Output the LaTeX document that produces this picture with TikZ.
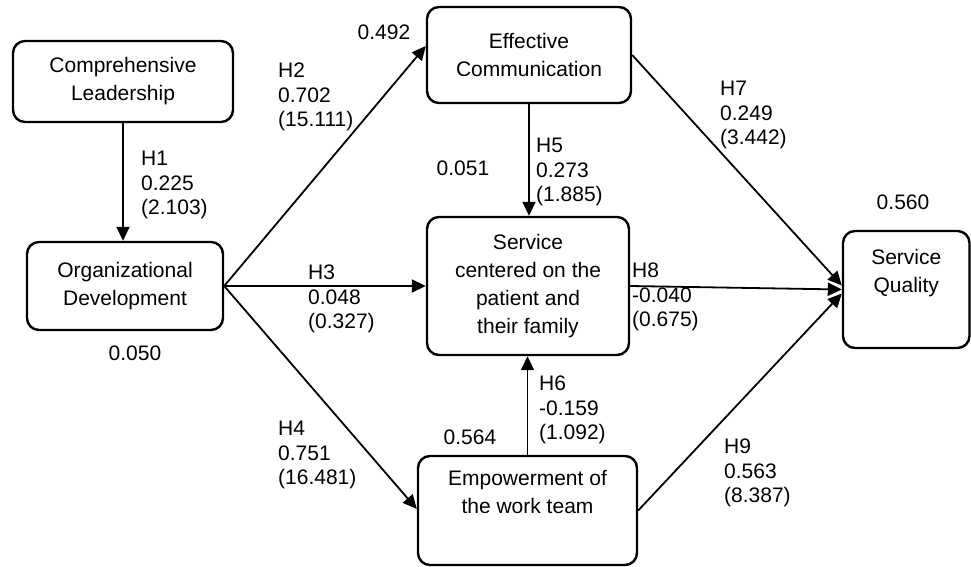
\documentclass[tikz,border=0pt]{standalone}
\usepackage{fontspec}
\setmainfont{Liberation Sans}
\usetikzlibrary{arrows.meta}
\tikzset{
  box/.style={draw, line width=2.4pt, rounded corners=12pt, align=center, inner sep=0pt,
    font=\fontsize{21pt}{28pt}\selectfont},
  num/.style={align=left, inner sep=0pt, font=\fontsize{21pt}{24.5pt}\selectfont},
  link/.style={line width=1.8pt, -{Triangle[length=14pt,width=13pt]}}
}
\begin{document}
\begin{tikzpicture}[x=1pt,y=-1pt]
\useasboundingbox (0,0) rectangle (971,567);
\node[box, minimum width=220pt, minimum height=81pt] (CL) at (123,81.5) {Comprehensive\\Leadership};
\node[box, minimum width=196pt, minimum height=88pt] (OD) at (125,286) {Organizational\\Development};
\node[box, minimum width=204pt, minimum height=96pt] (EC) at (529,55) {Effective\\Communication};
\node[box, minimum width=202pt, minimum height=138pt] (SC) at (528,286) {Service\\centered on the\\patient and\\their family};
\node[box, minimum width=219pt, minimum height=109pt] (EW) at (527.5,510.5) {Empowerment of\\the work team\\\strut};
\node[box, minimum width=126.5pt, minimum height=117pt] (SQ) at (906.25,289.5) {Service\\Quality\\\strut};

\draw[link] (CL.south) -- (CL.south |- OD.north);
\draw[link] (OD.east) -- ([yshift=9pt]EC.west);
\draw[link] (OD.east) -- (OD.east -| SC.west);
\draw[link] (OD.east) -- ([yshift=1.5pt]EW.west);
\draw[link] (EC.south) -- (EC.south |- SC.north);
\draw[link] (EW.north) -- (EW.north |- SC.south);
\draw[link] (EC.east) -- ([yshift=4pt]SQ.west);
\draw[link] (SC.east) -- (SQ.west);
\draw[link] (EW.east) -- ([yshift=-4pt]SQ.west);

% path coefficients (t values)
\node[num, anchor=west] (h1) at (141,185) {H1\\0.225\\(2.103)};
\node[num, anchor=west] (h2) at (278,97) {H2\\0.702\\(15.111)};
\node[num, anchor=west] (h3) at (308,299) {H3\\0.048\\(0.327)};
\node[num, anchor=west] (h4) at (278,455) {H4\\0.751\\(16.481)};
\node[num, anchor=west] (h5) at (536,172) {H5\\0.273\\(1.885)};
\node[num, anchor=west] (h6) at (539,410) {H6\\-0.159\\(1.092)};
\node[num, anchor=west] (h7) at (720,115) {H7\\0.249\\(3.442)};
\node[num, anchor=west] (h8) at (632,297) {H8\\-0.040\\(0.675)};
\node[num, anchor=west] (h9) at (724,473) {H9\\0.563\\(8.387)};

% R squared
\node[num] (rEC) at (384,32) {0.492};
\node[num] (rSC) at (463,168) {0.051};
\node[num] (rSQ) at (903,202) {0.560};
\node[num] (rOD) at (135,353) {0.050};
\node[num] (rEW) at (470,437) {0.564};
\end{tikzpicture}
\end{document}
